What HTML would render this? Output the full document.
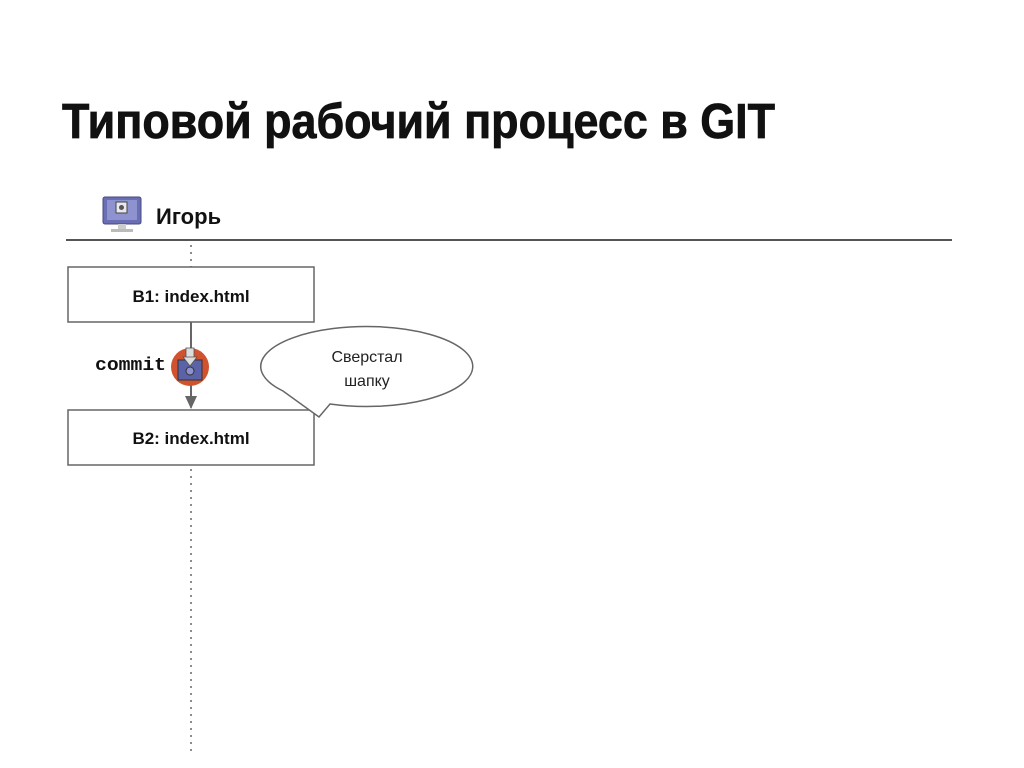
<!DOCTYPE html>
<html><head><meta charset="utf-8"><style>
body{margin:0;background:#fff;width:1024px;height:768px;overflow:hidden}
svg{position:absolute;left:0;top:0}
</style></head><body>
<svg width="1024" height="768" xmlns="http://www.w3.org/2000/svg" font-family="Liberation Sans, DejaVu Sans, sans-serif">
<text x="62" y="138" font-size="49" font-weight="bold" fill="#111" stroke="#111" stroke-width="0.8" textLength="713" lengthAdjust="spacingAndGlyphs">Типовой рабочий процесс в GIT</text>
<!-- monitor -->
<rect x="103" y="197" width="38" height="27" rx="2" fill="#6a6fb5" stroke="#444a80" stroke-width="1"/>
<rect x="107" y="200" width="30" height="20" fill="#8e93d0"/>
<rect x="116" y="202" width="11" height="11" fill="#e8e8f0" stroke="#444" stroke-width="1"/>
<circle cx="121.5" cy="207.5" r="2.5" fill="#555"/>
<rect x="118" y="224" width="8" height="5" fill="#ccc"/>
<rect x="111" y="229" width="22" height="3" fill="#bbb"/>
<text x="156" y="224" font-size="22" font-weight="bold" fill="#111">Игорь</text>
<line x1="66" y1="240" x2="952" y2="240" stroke="#555" stroke-width="2"/>
<line x1="191" y1="245" x2="191" y2="755" stroke="#666" stroke-width="1.5" stroke-dasharray="2,5"/>
<rect x="68" y="267" width="246" height="55" fill="#fff" stroke="#666" stroke-width="1.5"/>
<text x="191" y="302" font-size="17" font-weight="bold" fill="#111" text-anchor="middle">B1: index.html</text>
<line x1="191" y1="322" x2="191" y2="398" stroke="#666" stroke-width="2"/>
<polygon points="185,396 197,396 191,409" fill="#666"/>
<circle cx="190" cy="367" r="19" fill="#d0522e"/>
<rect x="178" y="360" width="24" height="20" fill="#5a62a8" stroke="#333" stroke-width="1"/>
<circle cx="190" cy="371" r="4" fill="#8e93d0" stroke="#333"/>
<rect x="186" y="348" width="8" height="10" fill="#ddd" stroke="#555" stroke-width="0.8"/>
<polygon points="183,357 197,357 190,366" fill="#ddd" stroke="#555" stroke-width="0.8"/>
<text x="95" y="370" font-family="Liberation Mono, monospace" font-size="18" font-weight="bold" fill="#111" textLength="71" lengthAdjust="spacingAndGlyphs">commit</text>
<rect x="68" y="410" width="246" height="55" fill="#fff" stroke="#666" stroke-width="1.5"/>
<text x="191" y="444" font-size="17" font-weight="bold" fill="#111" text-anchor="middle">B2: index.html</text>
<path d="M330,404 A106,40 0 1,0 283,391 L319,417 Z" fill="#fff" stroke="#666" stroke-width="1.5"/>
<text x="367" y="362" font-size="16" fill="#222" text-anchor="middle">Сверстал</text>
<text x="367" y="386" font-size="16" fill="#222" text-anchor="middle">шапку</text>
</svg>
</body></html>
